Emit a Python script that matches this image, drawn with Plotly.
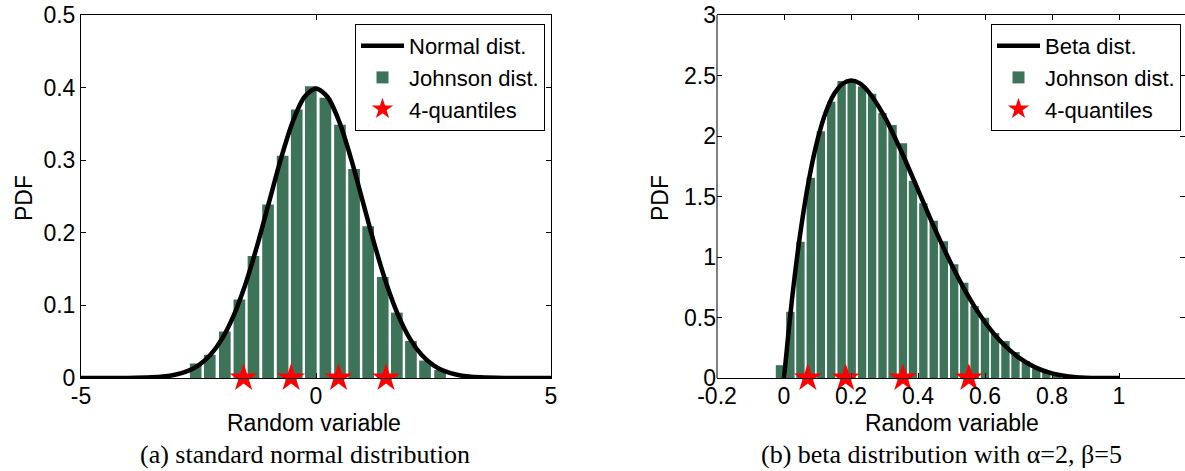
import plotly.graph_objects as go

# ---------------- Panel (a): standard normal ----------------
norm_x = [-5, -4.5, -4, -3.5, -3.25, -3, -2.75, -2.5, -2.25, -2, -1.75, -1.5, -1.25, -1,
          -0.75, -0.5, -0.25, 0, 0.25, 0.5, 0.75, 1, 1.25, 1.5, 1.75, 2, 2.25, 2.5,
          2.75, 3, 3.25, 3.5, 4, 4.5, 5]
norm_pdf = [0, 0, 0.0001, 0.0009, 0.002, 0.0044, 0.0091, 0.0175, 0.0317, 0.054, 0.0863,
            0.1295, 0.1826, 0.242, 0.3011, 0.3521, 0.3867, 0.3989, 0.3867, 0.3521, 0.3011,
            0.242, 0.1826, 0.1295, 0.0863, 0.054, 0.0317, 0.0175, 0.0091, 0.0044, 0.002,
            0.0009, 0.0001, 0, 0]
john_a_centers = [-2.56, -2.26, -1.94, -1.63, -1.33, -1.02, -0.71, -0.41, -0.11, 0.20,
                  0.51, 0.81, 1.11, 1.42, 1.72, 2.02, 2.32, 2.64]
john_a_heights = [0.020, 0.032, 0.064, 0.108, 0.168, 0.239, 0.306, 0.370, 0.402, 0.386,
                  0.349, 0.288, 0.209, 0.139, 0.090, 0.051, 0.024, 0.011]
quart_a_x = [-1.54, -0.53, 0.48, 1.49]
quart_a_y = [0, 0, 0, 0]

a_xticks = [-5, 0, 5]
a_xticklabels = ["-5", "0", "5"]
a_yticks = [0, 0.1, 0.2, 0.3, 0.4, 0.5]
a_yticklabels = ["0", "0.1", "0.2", "0.3", "0.4", "0.5"]

# ---------------- Panel (b): beta(2,5) ----------------
beta_x = [0, 0.025, 0.05, 0.075, 0.1, 0.125, 0.15, 0.175, 0.2, 0.225, 0.25, 0.3, 0.35,
          0.4, 0.45, 0.5, 0.55, 0.6, 0.65, 0.7, 0.75, 0.8, 0.85, 0.9, 0.95, 1.0]
beta_pdf = [0, 0.678, 1.222, 1.648, 1.968, 2.198, 2.349, 2.432, 2.458, 2.437, 2.373, 2.161,
            1.874, 1.555, 1.235, 0.938, 0.677, 0.461, 0.293, 0.170, 0.088, 0.038, 0.013,
            0.003, 0.0002, 0]
john_b_centers = [-0.012, 0.019, 0.049, 0.080, 0.110, 0.141, 0.172, 0.202, 0.233, 0.263,
                  0.294, 0.324, 0.355, 0.385, 0.416, 0.447, 0.477, 0.508, 0.538, 0.569,
                  0.600, 0.630, 0.661, 0.691, 0.722, 0.753, 0.783, 0.814]
john_b_heights = [0.106, 0.547, 1.126, 1.655, 2.040, 2.283, 2.454, 2.47, 2.41, 2.35,
                  2.19, 2.09, 1.94, 1.63, 1.445, 1.30, 1.13, 0.94, 0.787, 0.595,
                  0.498, 0.372, 0.305, 0.215, 0.14, 0.078, 0.045, 0.023]
quart_b_x = [0.071, 0.184, 0.355, 0.552]
quart_b_y = [0, 0, 0, 0]

b_xticks = [-0.2, 0, 0.2, 0.4, 0.6, 0.8, 1]
b_xticklabels = ["-0.2", "0", "0.2", "0.4", "0.6", "0.8", "1"]
b_yticks = [0, 0.5, 1, 1.5, 2, 2.5, 3]
b_yticklabels = ["0", "0.5", "1", "1.5", "2", "2.5", "3"]

# ---------------- styling ----------------
W, H = 1185, 471
FONT = "Liberation Sans, Arial, sans-serif"
SERIF = "Liberation Serif, Times New Roman, serif"
GREEN = "#3d7359"
tickfont = dict(family=FONT, size=23, color="black")

fig = go.Figure()

def add_panel(xa, ya, leg, cx, cy, curve_name, bx, by, bw, qx, qy):
    fig.add_trace(go.Scatter(x=cx, y=cy, mode="lines", name=curve_name,
                             line=dict(color="black", width=4.5, shape="spline", smoothing=0.8),
                             xaxis=xa, yaxis=ya, legend=leg, cliponaxis=False))
    fig.add_trace(go.Bar(x=bx, y=by, width=bw, name="Johnson dist.",
                         marker=dict(color=GREEN, line=dict(width=0)),
                         xaxis=xa, yaxis=ya, legend=leg))
    fig.add_trace(go.Scatter(x=qx, y=qy, mode="markers", name="4-quantiles",
                             marker=dict(symbol="star", size=21, color="red", line=dict(width=0)),
                             xaxis=xa, yaxis=ya, legend=leg, cliponaxis=False))

add_panel("x", "y", "legend", norm_x, norm_pdf, "Normal dist.",
          john_a_centers, john_a_heights, 0.248, quart_a_x, quart_a_y)
add_panel("x2", "y2", "legend2", beta_x, beta_pdf, "Beta dist.",
          john_b_centers, john_b_heights, 0.0250, quart_b_x, quart_b_y)

ydom = [(H - 378) / H, (H - 15) / H]
common = dict(ticks="inside", ticklen=5, tickcolor="black", tickwidth=1, showgrid=False,
              zeroline=False, tickfont=tickfont, linecolor="black", linewidth=1,
              automargin=False)

legend_common = dict(xanchor="right", y=(H - 24) / H, yanchor="top", bordercolor="black",
                     borderwidth=1, bgcolor="white", itemwidth=43, tracegroupgap=0,
                     font=dict(family=FONT, size=22, color="black"))

fig.update_layout(
    width=W, height=H, margin=dict(l=0, r=0, t=0, b=0, pad=0, autoexpand=False),
    autosize=False,
    paper_bgcolor="white", plot_bgcolor="white",
    xaxis=dict(domain=[81 / W, 551 / W], range=[-5, 5], tickvals=a_xticks, ticktext=a_xticklabels,
               showline=True, mirror="ticks", anchor="y", ticklabelstandoff=-3, **common),
    yaxis=dict(domain=ydom, range=[0, 0.5], tickvals=a_yticks, ticktext=a_yticklabels,
               showline=True, mirror="ticks", anchor="x", **common),
    xaxis2=dict(domain=[717 / W, 1.0], range=[-0.2, -0.2 + 468 / 335], tickvals=b_xticks,
                ticktext=b_xticklabels, showline=True, mirror="ticks", anchor="y2",
                ticklabelstandoff=-3, **common),
    yaxis2=dict(domain=ydom, range=[0, 3], tickvals=b_yticks, ticktext=b_yticklabels,
                showline=False, mirror="ticks", anchor="x2", **common),
    legend=dict(x=545 / W, **legend_common),
    legend2=dict(x=1181 / W, **legend_common),
    shapes=[dict(type="line", xref="x2 domain", yref="y2 domain", x0=0, x1=0, y0=0, y1=1,
                 line=dict(color="black", width=1))],
)

def ann(text, x, y, font, angle=0):
    fig.add_annotation(text=text, x=x / W, y=(H - y) / H, xref="paper", yref="paper",
                       xanchor="center", yanchor="middle", showarrow=False,
                       textangle=angle, font=font)

axfont = dict(family=FONT, size=23, color="black")
capfont = dict(family=SERIF, size=26, color="black")
ann("Random variable", 314, 423, axfont)
ann("Random variable", 952, 423, axfont)
ann("PDF", 24, 198, axfont, -90)
ann("PDF", 660, 198, axfont, -90)
ann("(a) standard normal distribution", 305, 454, capfont)
ann("(b) beta distribution with α=2, β=5", 941, 454, capfont)

fig.write_html("out.html")
